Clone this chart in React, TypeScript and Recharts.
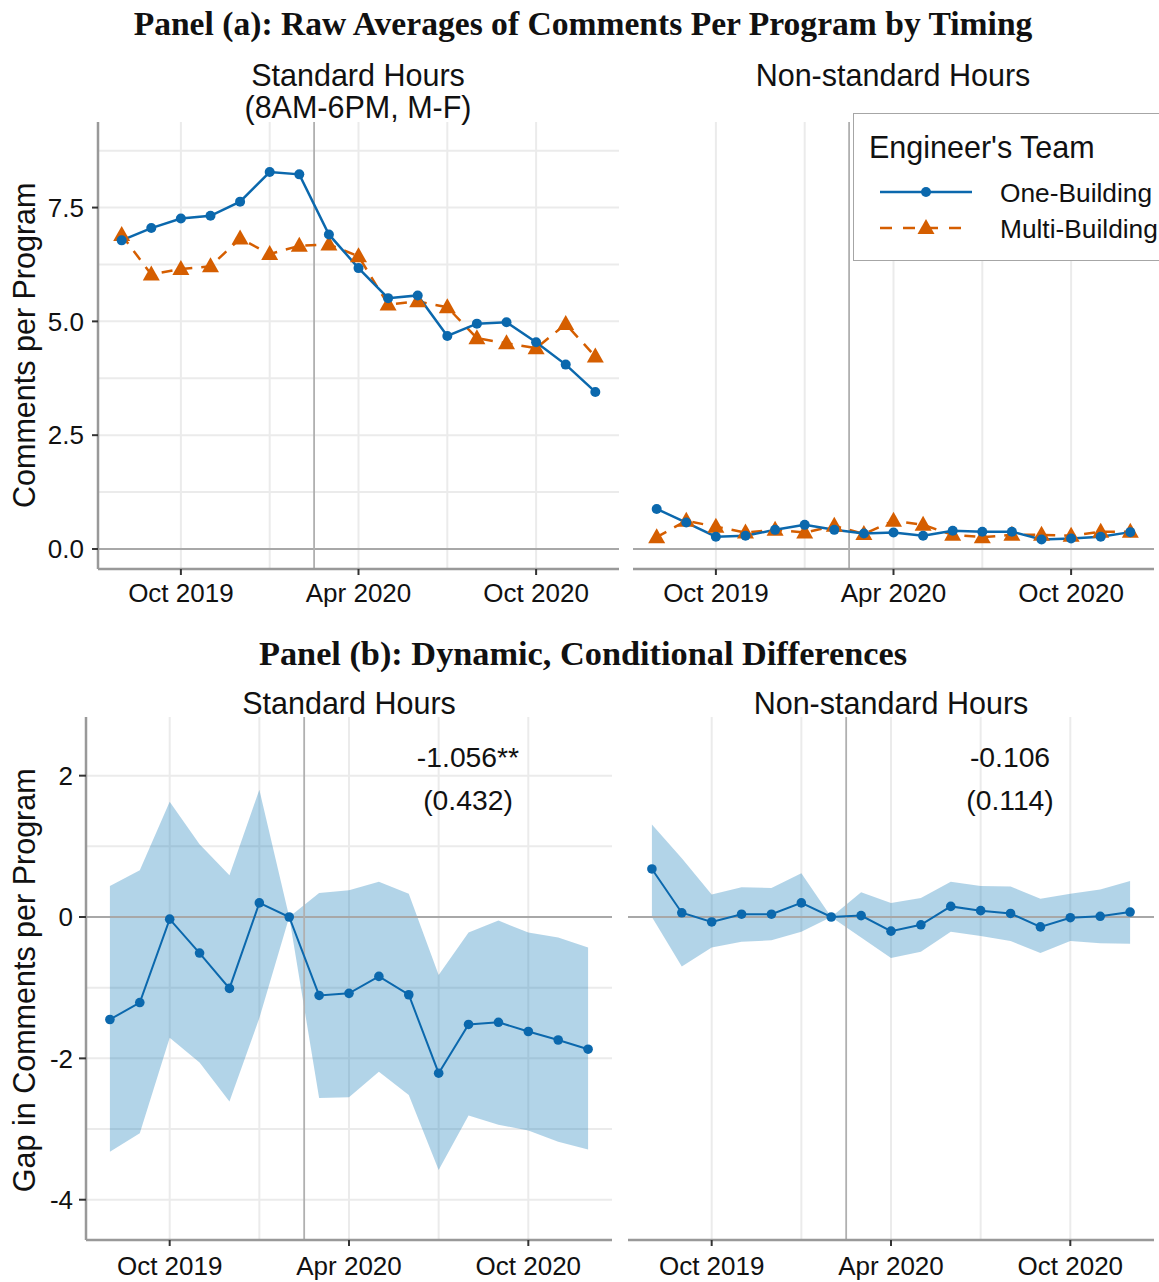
import React from "react";
import { ComposedChart, Line, Area, XAxis, YAxis, CartesianGrid, ReferenceLine } from "recharts";

// month index 0 = Aug 2019 ... 16 = Dec 2020
const months = [
  "Aug 2019", "Sep 2019", "Oct 2019", "Nov 2019", "Dec 2019", "Jan 2020", "Feb 2020", "Mar 2020", "Apr 2020",
  "May 2020", "Jun 2020", "Jul 2020", "Aug 2020", "Sep 2020", "Oct 2020", "Nov 2020", "Dec 2020"
];
const xTicks = [2, 8, 14];
const xTickLabels = ["Oct 2019", "Apr 2020", "Oct 2020"];
const xGrid = [2, 5, 8, 11, 14];
const covidBreak = 6.5;

// Panel (a): raw averages
const stdOne = [6.78, 7.05, 7.26, 7.32, 7.63, 8.28, 8.23, 6.91, 6.17, 5.51, 5.57, 4.68, 4.95, 4.98, 4.54, 4.05, 3.45];
const stdMulti = [6.9, 6.03, 6.15, 6.21, 6.82, 6.48, 6.66, 6.69, 6.43, 5.37, 5.44, 5.31, 4.63, 4.52, 4.41, 4.94, 4.23];
const nonOne = [0.88, 0.58, 0.27, 0.29, 0.42, 0.53, 0.42, 0.34, 0.36, 0.29, 0.4, 0.38, 0.38, 0.21, 0.23, 0.27, 0.37];
const nonMulti = [0.26, 0.62, 0.49, 0.36, 0.42, 0.36, 0.51, 0.33, 0.62, 0.53, 0.31, 0.26, 0.31, 0.31, 0.29, 0.38, 0.38];
const aTicks = [0, 2.5, 5, 7.5];
const aGrid = [0, 1.25, 2.5, 3.75, 5, 6.25, 7.5, 8.75];

// Panel (b): conditional gaps with 95% band
const gapStd = [-1.45, -1.21, -0.03, -0.51, -1.01, 0.2, 0, -1.11, -1.08, -0.84, -1.1, -2.21, -1.52, -1.49, -1.62, -1.74, -1.87];
const gapStdLo = [-3.32, -3.06, -1.71, -2.06, -2.61, -1.43, 0, -2.56, -2.55, -2.19, -2.52, -3.58, -2.81, -2.94, -3.02, -3.18, -3.29];
const gapStdHi = [0.44, 0.66, 1.63, 1.03, 0.59, 1.8, 0, 0.34, 0.38, 0.5, 0.33, -0.82, -0.22, -0.05, -0.22, -0.29, -0.43];
const gapNon = [0.68, 0.06, -0.07, 0.04, 0.04, 0.2, 0, 0.02, -0.2, -0.11, 0.15, 0.09, 0.05, -0.14, -0.01, 0.01, 0.07];
const gapNonLo = [0.0, -0.7, -0.43, -0.35, -0.33, -0.21, 0, -0.29, -0.58, -0.49, -0.21, -0.27, -0.34, -0.51, -0.34, -0.37, -0.38];
const gapNonHi = [1.31, 0.83, 0.32, 0.42, 0.41, 0.62, 0, 0.35, 0.2, 0.27, 0.5, 0.44, 0.43, 0.26, 0.33, 0.39, 0.51];
const bTicks = [-4, -2, 0, 2];
const bGrid = [-4, -3, -2, -1, 0, 1, 2];

const BLUE = "#0b68ad";
const ORANGE = "#d55e00";
const FONT = "'Liberation Sans', Arial, sans-serif";
const SERIF = "'Liberation Serif', 'DejaVu Serif', serif";

const rawStd = months.map((m, i) => ({ x: i, month: m, one: stdOne[i], multi: stdMulti[i] }));
const rawNon = months.map((m, i) => ({ x: i, month: m, one: nonOne[i], multi: nonMulti[i] }));
const gapStdRows = months.map((m, i) => ({ x: i, month: m, gap: gapStd[i], band: [gapStdLo[i], gapStdHi[i]] }));
const gapNonRows = months.map((m, i) => ({ x: i, month: m, gap: gapNon[i], band: [gapNonLo[i], gapNonHi[i]] }));

const Triangle = (props: any) => {
  const { cx, cy, index } = props;
  if (cx == null || cy == null) return <g key={`t-${index}`} />;
  return <path key={`t-${index}`} d={`M${cx},${cy - 9} L${cx + 8.5},${cy + 6} L${cx - 8.5},${cy + 6} Z`} fill={ORANGE} />;
};

function Txt({ x, y, size, children, align = "center", bold = false, serif = false }: any) {
  const w = 1000;
  const left = align === "center" ? x - w / 2 : x;
  return (
    <div
      style={{
        position: "absolute",
        left,
        top: y - size / 2,
        width: w,
        height: size,
        lineHeight: `${size}px`,
        fontSize: size,
        fontFamily: serif ? SERIF : FONT,
        fontWeight: bold ? 700 : 400,
        textAlign: align === "center" ? "center" : "left",
        color: "#111",
        whiteSpace: "nowrap"
      }}
    >
      {children}
    </div>
  );
}

function VTxt({ x, y, size, children }: any) {
  const w = 600;
  return (
    <div
      style={{
        position: "absolute",
        left: x - w / 2,
        top: y - size / 2,
        width: w,
        height: size,
        lineHeight: `${size}px`,
        fontSize: size,
        fontFamily: FONT,
        textAlign: "center",
        color: "#111",
        transform: "rotate(-90deg)",
        whiteSpace: "nowrap"
      }}
    >
      {children}
    </div>
  );
}

function Facet({ left, top, width, height, yWidth, mTop, xHeight, xGap, yTickSize, yGap, yDomain, yTicks, yGrid, yFmt, showY, data, children }: any) {
  return (
    <div style={{ position: "absolute", left, top }}>
      <ComposedChart width={width} height={height} data={data} margin={{ top: mTop, right: 0, bottom: 0, left: 0 }}>
        <CartesianGrid
          stroke="#ebebeb"
          strokeWidth={2}
          horizontalValues={yGrid}
          verticalValues={xGrid}
        />
        <XAxis
          type="number"
          dataKey="x"
          domain={[-0.8, 16.8]}
          allowDataOverflow
          ticks={xTicks}
          interval={0}
          tickFormatter={(v: number) => xTickLabels[xTicks.indexOf(v)]}
          height={xHeight}
          tickSize={6}
          tickMargin={xGap}
          tick={{ fill: "#111", fontSize: 26, fontFamily: FONT }}
          tickLine={{ stroke: "#333", strokeWidth: 2 }}
          axisLine={{ stroke: "#999", strokeWidth: 2.5 }}
        />
        <YAxis
          type="number"
          domain={yDomain}
          allowDataOverflow
          ticks={yTicks}
          interval={0}
          width={yWidth}
          tickFormatter={yFmt}
          tickSize={yTickSize}
          tickMargin={yGap}
          tick={showY ? { fill: "#111", fontSize: 26, fontFamily: FONT } : false}
          tickLine={showY ? { stroke: "#333", strokeWidth: 2 } : false}
          axisLine={{ stroke: "#999", strokeWidth: 2.5 }}
        />
        <ReferenceLine y={0} stroke="#a8a8a8" strokeWidth={2} />
        <ReferenceLine x={covidBreak} stroke="#b0b0b0" strokeWidth={1.8} />
        {children}
      </ComposedChart>
    </div>
  );
}

function rawSeries() {
  return [
    <Line
      key="multi"
      type="linear"
      dataKey="multi"
      stroke={ORANGE}
      strokeWidth={2.5}
      strokeDasharray="11 9"
      dot={Triangle}
      activeDot={false}
      isAnimationActive={false}
    />,
    <Line
      key="one"
      type="linear"
      dataKey="one"
      stroke={BLUE}
      strokeWidth={2.5}
      dot={{ r: 5, fill: BLUE, stroke: "none" }}
      activeDot={false}
      isAnimationActive={false}
    />
  ];
}

function gapSeries() {
  return [
    <Area
      key="band"
      type="linear"
      dataKey="band"
      stroke="none"
      fill="#0072b2"
      fillOpacity={0.3}
      activeDot={false}
      isAnimationActive={false}
    />,
    <Line
      key="gap"
      type="linear"
      dataKey="gap"
      stroke={BLUE}
      strokeWidth={2}
      dot={{ r: 4.8, fill: BLUE, stroke: "none" }}
      activeDot={false}
      isAnimationActive={false}
    />
  ];
}

export default function App() {
  const fmtA = (v: number) => v.toFixed(1);
  const fmtB = (v: number) => String(v);
  return (
    <div style={{ position: "absolute", left: 0, top: 0, width: 1159, height: 1282, overflow: "hidden", background: "#fff" }}>
      <Txt x={583} y={24} size={33.6} bold serif>Panel (a): Raw Averages of Comments Per Program by Timing</Txt>
      <Txt x={358} y={75} size={30.5}>Standard Hours</Txt>
      <Txt x={358} y={107} size={30.5}>(8AM-6PM, M-F)</Txt>
      <Txt x={893} y={75} size={30.5}>Non-standard Hours</Txt>
      <VTxt x={24} y={345} size={30.5}>Comments per Program</VTxt>

      <Facet left={0} top={110} width={619} height={500} yWidth={98} mTop={12} xHeight={41} xGap={9} yTickSize={6} yGap={8}
        yDomain={[-0.44, 9.38]} yTicks={aTicks} yGrid={aGrid} yFmt={fmtA} showY data={rawStd}>
        {rawSeries()}
      </Facet>
      <Facet left={633} top={110} width={521} height={500} yWidth={0} mTop={12} xHeight={41} xGap={9} yTickSize={6} yGap={8}
        yDomain={[-0.44, 9.38]} yTicks={aTicks} yGrid={aGrid} yFmt={fmtA} showY={false} data={rawNon}>
        {rawSeries()}
      </Facet>

      <div style={{ position: "absolute", left: 853, top: 113, width: 330, height: 146, border: "1.5px solid #a6a6a6", background: "#fff" }} />
      <Txt x={869} y={147} size={30.5} align="left">Engineer's Team</Txt>
      <svg style={{ position: "absolute", left: 876, top: 176 }} width={100} height={70}>
        <line x1={4} y1={16} x2={96} y2={16} stroke={BLUE} strokeWidth={2.5} />
        <circle cx={50} cy={16} r={5} fill={BLUE} />
        <line x1={4} y1={52} x2={96} y2={52} stroke={ORANGE} strokeWidth={2.5} strokeDasharray="12 11" />
        <path d="M50,43 L58.5,58 L41.5,58 Z" fill={ORANGE} />
      </svg>
      <Txt x={1000} y={193} size={26.3} align="left">One-Building</Txt>
      <Txt x={1000} y={229} size={26.3} align="left">Multi-Building</Txt>

      <Txt x={583} y={653} size={34.3} bold serif>Panel (b): Dynamic, Conditional Differences</Txt>
      <Txt x={349} y={703} size={30.5}>Standard Hours</Txt>
      <Txt x={891} y={703} size={30.5}>Non-standard Hours</Txt>
      <VTxt x={24} y={980} size={30.5}>Gap in Comments per Program</VTxt>

      <Facet left={0} top={710} width={612} height={572} yWidth={86} mTop={7} xHeight={42} xGap={11} yTickSize={7} yGap={6}
        yDomain={[-4.57, 2.83]} yTicks={bTicks} yGrid={bGrid} yFmt={fmtB} showY data={gapStdRows}>
        {gapSeries()}
      </Facet>
      <Facet left={628} top={710} width={526} height={572} yWidth={0} mTop={7} xHeight={42} xGap={11} yTickSize={7} yGap={6}
        yDomain={[-4.57, 2.83]} yTicks={bTicks} yGrid={bGrid} yFmt={fmtB} showY={false} data={gapNonRows}>
        {gapSeries()}
      </Facet>

      <Txt x={468} y={757} size={28.3}>-1.056**</Txt>
      <Txt x={468} y={800} size={28.3}>(0.432)</Txt>
      <Txt x={1010} y={757} size={28.3}>-0.106</Txt>
      <Txt x={1010} y={800} size={28.3}>(0.114)</Txt>
    </div>
  );
}
